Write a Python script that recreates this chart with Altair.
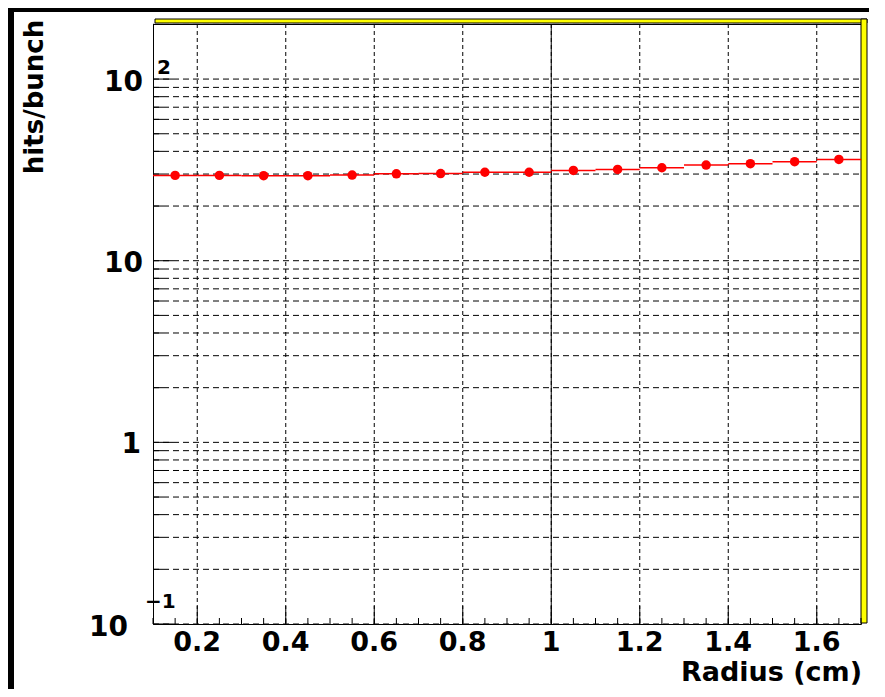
import altair as alt
import pandas as pd

# ---- data ----
radius = [0.15, 0.25, 0.35, 0.45, 0.55, 0.65, 0.75, 0.85,
          0.95, 1.05, 1.15, 1.25, 1.35, 1.45, 1.55, 1.65]
hits = [29.5, 29.5, 29.4, 29.4, 29.6, 30.1, 30.2, 30.7,
        30.7, 31.4, 31.8, 32.5, 33.6, 34.2, 35.1, 36.1]
bin_half_width = 0.05

x_label_values = [0.2, 0.4, 0.6, 0.8, 1.0, 1.2, 1.4, 1.6]
x_label_text = ["0.2", "0.4", "0.6", "0.8", "1", "1.2", "1.4", "1.6"]
x_minor_ticks = [round(0.1 + 0.05 * i, 2) for i in range(33)]

y_major = [0.1, 1, 10, 100]
y_minor = [m * 10 ** e for e in (-1, 0, 1) for m in range(2, 10)] + [200]

y_labels = [
    # value, base text, superscript
    (100, "10", "2"),
    (10, "10", ""),
    (1, "1", ""),
    (0.1, "10", "\u22121"),
]

x_title = "Radius (cm)"
y_title = "hits/bunch"

# ---- tables ----
df = pd.DataFrame({"r": radius, "h": hits})
df["lo"] = df["r"] - bin_half_width
df["hi"] = df["r"] + bin_half_width

W, H = 708, 600
FONT = "DejaVu Sans"
xscale = alt.Scale(domain=[0.1, 1.7], nice=False, zero=False)
yscale = alt.Scale(type="log", domain=[0.1, 201], nice=False)
dummy = pd.DataFrame({"d": [0]})


def rect(x, x2, y, y2, fill, stroke=None):
    kw = {"fill": fill}
    if stroke:
        kw.update(stroke=stroke, strokeWidth=1)
    return alt.Chart(dummy).mark_rect(**kw).encode(
        x=alt.value(x), x2=alt.value(x2), y=alt.value(y), y2=alt.value(y2))


layers = []
# canvas border pieces
layers.append(rect(-145, -139, -16, 665, "black"))
layers.append(rect(-145, 716, -16, -12, "black"))
# yellow frame shadow
layers.append(rect(2, 714, -5, -1, "#ffff00", "black"))
layers.append(rect(708, 714, -5, 599, "#ffff00", "black"))

# grid
ygrid = pd.DataFrame({"v": y_major + y_minor})
layers.append(alt.Chart(ygrid).mark_rule(color="black", strokeWidth=1, strokeDash=[6, 4]).encode(
    y=alt.Y("v:Q", scale=yscale, axis=None), x=alt.value(0), x2=alt.value(W)))
xgrid = pd.DataFrame({"v": x_label_values})
layers.append(alt.Chart(xgrid).mark_rule(color="black", strokeWidth=1, strokeDash=[4, 3]).encode(
    x=alt.X("v:Q", scale=xscale, axis=None), y=alt.value(0), y2=alt.value(H)))
layers.append(alt.Chart(pd.DataFrame({"v": [1.0]})).mark_rule(color="black", strokeWidth=1).encode(
    x=alt.X("v:Q", scale=xscale, axis=None), y=alt.value(0), y2=alt.value(H)))

# ticks (inward)
layers.append(alt.Chart(pd.DataFrame({"v": y_major})).mark_rule(color="black").encode(
    y=alt.Y("v:Q", scale=yscale, axis=None), x=alt.value(0), x2=alt.value(20)))
layers.append(alt.Chart(pd.DataFrame({"v": y_minor})).mark_rule(color="black").encode(
    y=alt.Y("v:Q", scale=yscale, axis=None), x=alt.value(0), x2=alt.value(10)))
layers.append(alt.Chart(pd.DataFrame({"v": x_label_values})).mark_rule(color="black").encode(
    x=alt.X("v:Q", scale=xscale, axis=None), y=alt.value(H), y2=alt.value(H - 18)))
layers.append(alt.Chart(pd.DataFrame({"v": x_minor_ticks})).mark_rule(color="black").encode(
    x=alt.X("v:Q", scale=xscale, axis=None), y=alt.value(H), y2=alt.value(H - 6)))

# data: horizontal bin-width bars and markers
layers.append(alt.Chart(df).mark_rule(color="#ff0000", strokeWidth=1.5).encode(
    x=alt.X("lo:Q", scale=xscale, axis=None), x2="hi:Q",
    y=alt.Y("h:Q", scale=yscale, axis=None)))
layers.append(alt.Chart(df).mark_point(filled=True, shape="circle", size=90, color="#ff0000", opacity=1).encode(
    x=alt.X("r:Q", scale=xscale, axis=None),
    y=alt.Y("h:Q", scale=yscale, axis=None)))

# x labels
xl = pd.DataFrame({"v": x_label_values, "t": x_label_text})
layers.append(alt.Chart(xl).mark_text(font=FONT, fontWeight="bold", fontSize=27, color="black",
                                      align="center", baseline="middle").encode(
    x=alt.X("v:Q", scale=xscale, axis=None), y=alt.value(619), text="t:N"))

# y labels
base_style = {100: (-10, 4), 10: (-10, 3), 1: (-12, 3), 0.1: (-25, 4)}
sup_style = {100: (4, -11), 0.1: (-8, -22)}
for v, base, sup in y_labels:
    d = pd.DataFrame({"v": [v], "t": [base], "s": [sup]})
    bx, bdy = base_style[v]
    layers.append(alt.Chart(d).mark_text(font=FONT, fontWeight="bold", fontSize=28, color="black",
                                         align="right", baseline="middle", dy=bdy).encode(
        y=alt.Y("v:Q", scale=yscale, axis=None), x=alt.value(bx), text="t:N"))
    if sup:
        sx, sdy = sup_style[v]
        layers.append(alt.Chart(d).mark_text(font=FONT, fontWeight="bold", fontSize=20, color="black",
                                             align="left", baseline="middle", dy=sdy).encode(
            y=alt.Y("v:Q", scale=yscale, axis=None), x=alt.value(sx), text="s:N"))

# titles
layers.append(alt.Chart(pd.DataFrame({"t": [x_title]})).mark_text(
    font=FONT, fontWeight="bold", fontSize=27, color="black", align="right", baseline="middle").encode(
    x=alt.value(709), y=alt.value(649), text="t:N"))
layers.append(alt.Chart(pd.DataFrame({"t": [y_title]})).mark_text(
    font=FONT, fontWeight="bold", fontSize=26, color="black", align="center", baseline="middle",
    angle=270).encode(x=alt.value(-118), y=alt.value(73), text="t:N"))

chart = alt.layer(*layers).properties(
    width=W, height=H,
    autosize=alt.AutoSizeParams(type="none"),
    padding={"left": 145, "top": 16, "right": 16, "bottom": 65},
    background="white",
).configure_view(stroke="black", strokeWidth=1)

chart.save("out.html", embed_options={"renderer": "svg", "actions": False})
